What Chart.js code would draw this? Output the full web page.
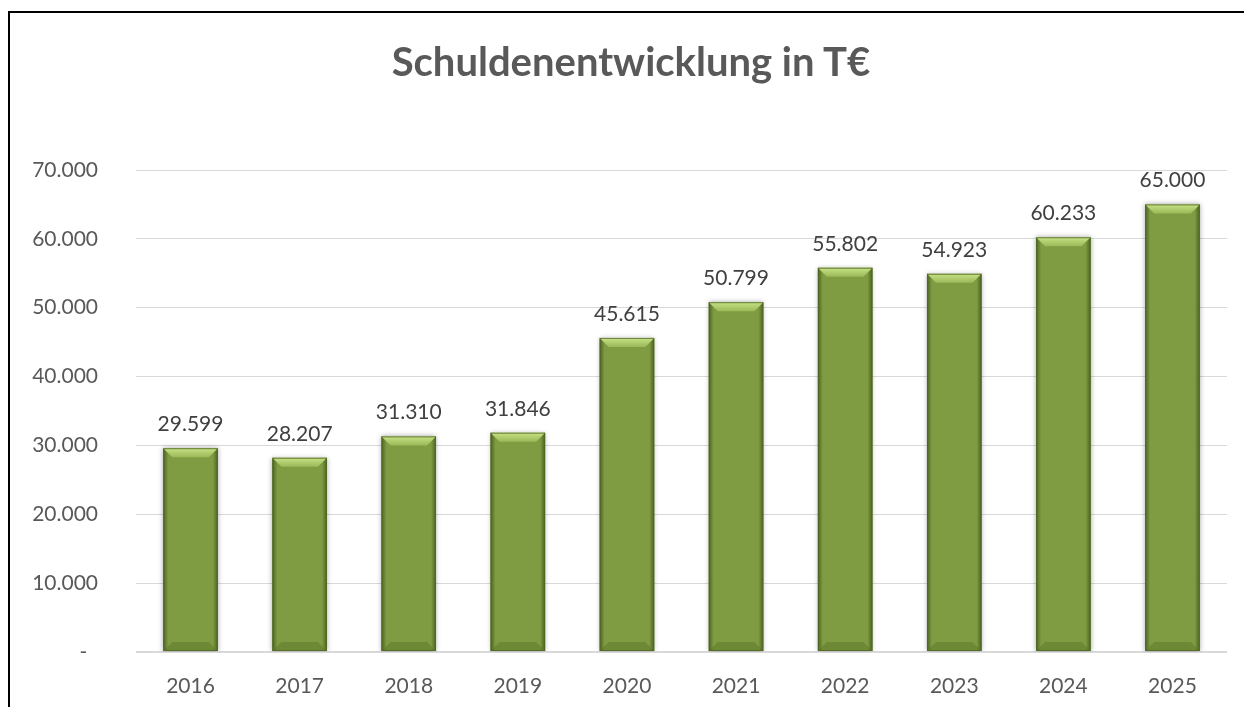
<!DOCTYPE html>
<html>
<head>
<meta charset="utf-8">
<script src="https://cdn.jsdelivr.net/npm/chart.js@4.4.1/dist/chart.umd.min.js"></script>
<style>
  html, body { margin: 0; padding: 0; background: #fff; overflow: hidden; }
  #frame {
    position: absolute; left: 8px; top: 11px;
    width: 1400px; height: 900px;
    border: 2px solid #000; box-sizing: border-box;
  }
  #wrap { position: absolute; left: 0; top: 0; width: 1244px; height: 707px; }
  #title {
    position: absolute; left: 18px; top: 37px; width: 1226px;
    text-align: center; font: bold 40px/48px Lato, sans-serif; color: #595959;
  }
</style>
</head>
<body>
<div id="frame"></div>
<div id="wrap"><canvas id="debtChart" width="1244" height="707"></canvas></div>
<div id="title">Schuldenentwicklung in T€</div>
<script>
var years = ['2016', '2017', '2018', '2019', '2020', '2021', '2022', '2023', '2024', '2025'];
var debts = [29599, 28207, 31310, 31846, 45615, 50799, 55802, 54923, 60233, 65000];
var yTicks = [0, 10000, 20000, 30000, 40000, 50000, 60000, 70000];

// 12345 -> "12.345"
function formatDe(v) {
    return String(Math.round(v)).replace(/\B(?=(\d{3})+(?!\d))/g, '.');
}

// Excel-like bevel on each bar plus value labels above them
var bevelPlugin = {
    id: 'bevel',
    beforeDatasetsDraw: function (chart) {
        var ctx = chart.ctx;
        ctx.save();
        ctx.shadowColor = 'rgba(0,0,0,0.35)';
        ctx.shadowBlur = 5;
        ctx.shadowOffsetX = 0;
        ctx.shadowOffsetY = 0;
    },
    afterDatasetsDraw: function (chart) {
        var ctx = chart.ctx;
        ctx.restore();
        var meta = chart.getDatasetMeta(0);
        meta.data.forEach(function (bar, i) {
            var w = bar.width;
            var l = bar.x - w / 2, r = bar.x + w / 2;
            var t = bar.y, b = bar.base;
            var bv = 9;

            ctx.save();
            // side edges
            var gl = ctx.createLinearGradient(l, 0, l + 5, 0);
            gl.addColorStop(0, 'rgba(70,92,30,0.9)');
            gl.addColorStop(1, 'rgba(70,92,30,0)');
            ctx.fillStyle = gl;
            ctx.fillRect(l, t, 5, b - t);
            var gr = ctx.createLinearGradient(r - 5, 0, r, 0);
            gr.addColorStop(0, 'rgba(70,92,30,0)');
            gr.addColorStop(1, 'rgba(70,92,30,0.9)');
            ctx.fillStyle = gr;
            ctx.fillRect(r - 5, t, 5, b - t);

            // top bevel
            var gt = ctx.createLinearGradient(0, t, 0, t + bv);
            gt.addColorStop(0, '#c6e286');
            gt.addColorStop(1, '#9cb958');
            ctx.fillStyle = gt;
            ctx.beginPath();
            ctx.moveTo(l, t);
            ctx.lineTo(r, t);
            ctx.lineTo(r - bv, t + bv);
            ctx.lineTo(l + bv, t + bv);
            ctx.closePath();
            ctx.fill();

            // bottom bevel
            ctx.fillStyle = 'rgba(90,115,40,0.45)';
            ctx.beginPath();
            ctx.moveTo(l, b);
            ctx.lineTo(r, b);
            ctx.lineTo(r - bv, b - bv);
            ctx.lineTo(l + bv, b - bv);
            ctx.closePath();
            ctx.fill();

            // outline
            ctx.strokeStyle = 'rgba(80,104,36,0.8)';
            ctx.lineWidth = 1;
            ctx.strokeRect(l + 0.5, t + 0.5, w - 1, b - t - 1);
            ctx.restore();

            // value label
            ctx.save();
            ctx.font = '21px Lato';
            ctx.fillStyle = '#404040';
            ctx.textAlign = 'center';
            ctx.textBaseline = 'alphabetic';
            ctx.fillText(formatDe(debts[i]), bar.x, t - 17);
            ctx.restore();
        });
    }
};

var ctx = document.getElementById('debtChart').getContext('2d');
var debtChart = new Chart(ctx, {
    type: 'bar',
    data: {
        labels: years,
        datasets: [{
            label: 'Schulden',
            data: debts,
            backgroundColor: '#7f9c43',
            borderWidth: 0,
            categoryPercentage: 1.0,
            barPercentage: 0.5
        }]
    },
    options: {
        responsive: false,
        animation: false,
        layout: { padding: { left: 0, right: 17, top: 170, bottom: 0 } },
        plugins: {
            legend: { display: false },
            tooltip: { enabled: false },
            title: { display: false }
        },
        scales: {
            x: {
                grid: { display: false, drawTicks: false },
                border: { display: false },
                ticks: {
                    color: '#595959',
                    font: { family: 'Lato', size: 21 },
                    padding: 22
                },
                afterFit: function (scale) { scale.height = 55; }
            },
            y: {
                min: 0,
                max: 70000,
                afterBuildTicks: function (scale) {
                    scale.ticks = yTicks.map(function (v) { return { value: v }; });
                },
                grid: {
                    color: '#d9d9d9',
                    lineWidth: function (c) { return c.tick && c.tick.value === 0 ? 2 : 1; },
                    drawTicks: false
                },
                border: { display: false },
                ticks: {
                    color: '#595959',
                    font: { family: 'Lato', size: 21 },
                    padding: 38,
                    callback: function (v) { return v === 0 ? '-  ' : formatDe(v); }
                },
                afterFit: function (scale) { scale.width = 136; }
            }
        }
    },
    plugins: [bevelPlugin]
});
</script>
</body>
</html>
